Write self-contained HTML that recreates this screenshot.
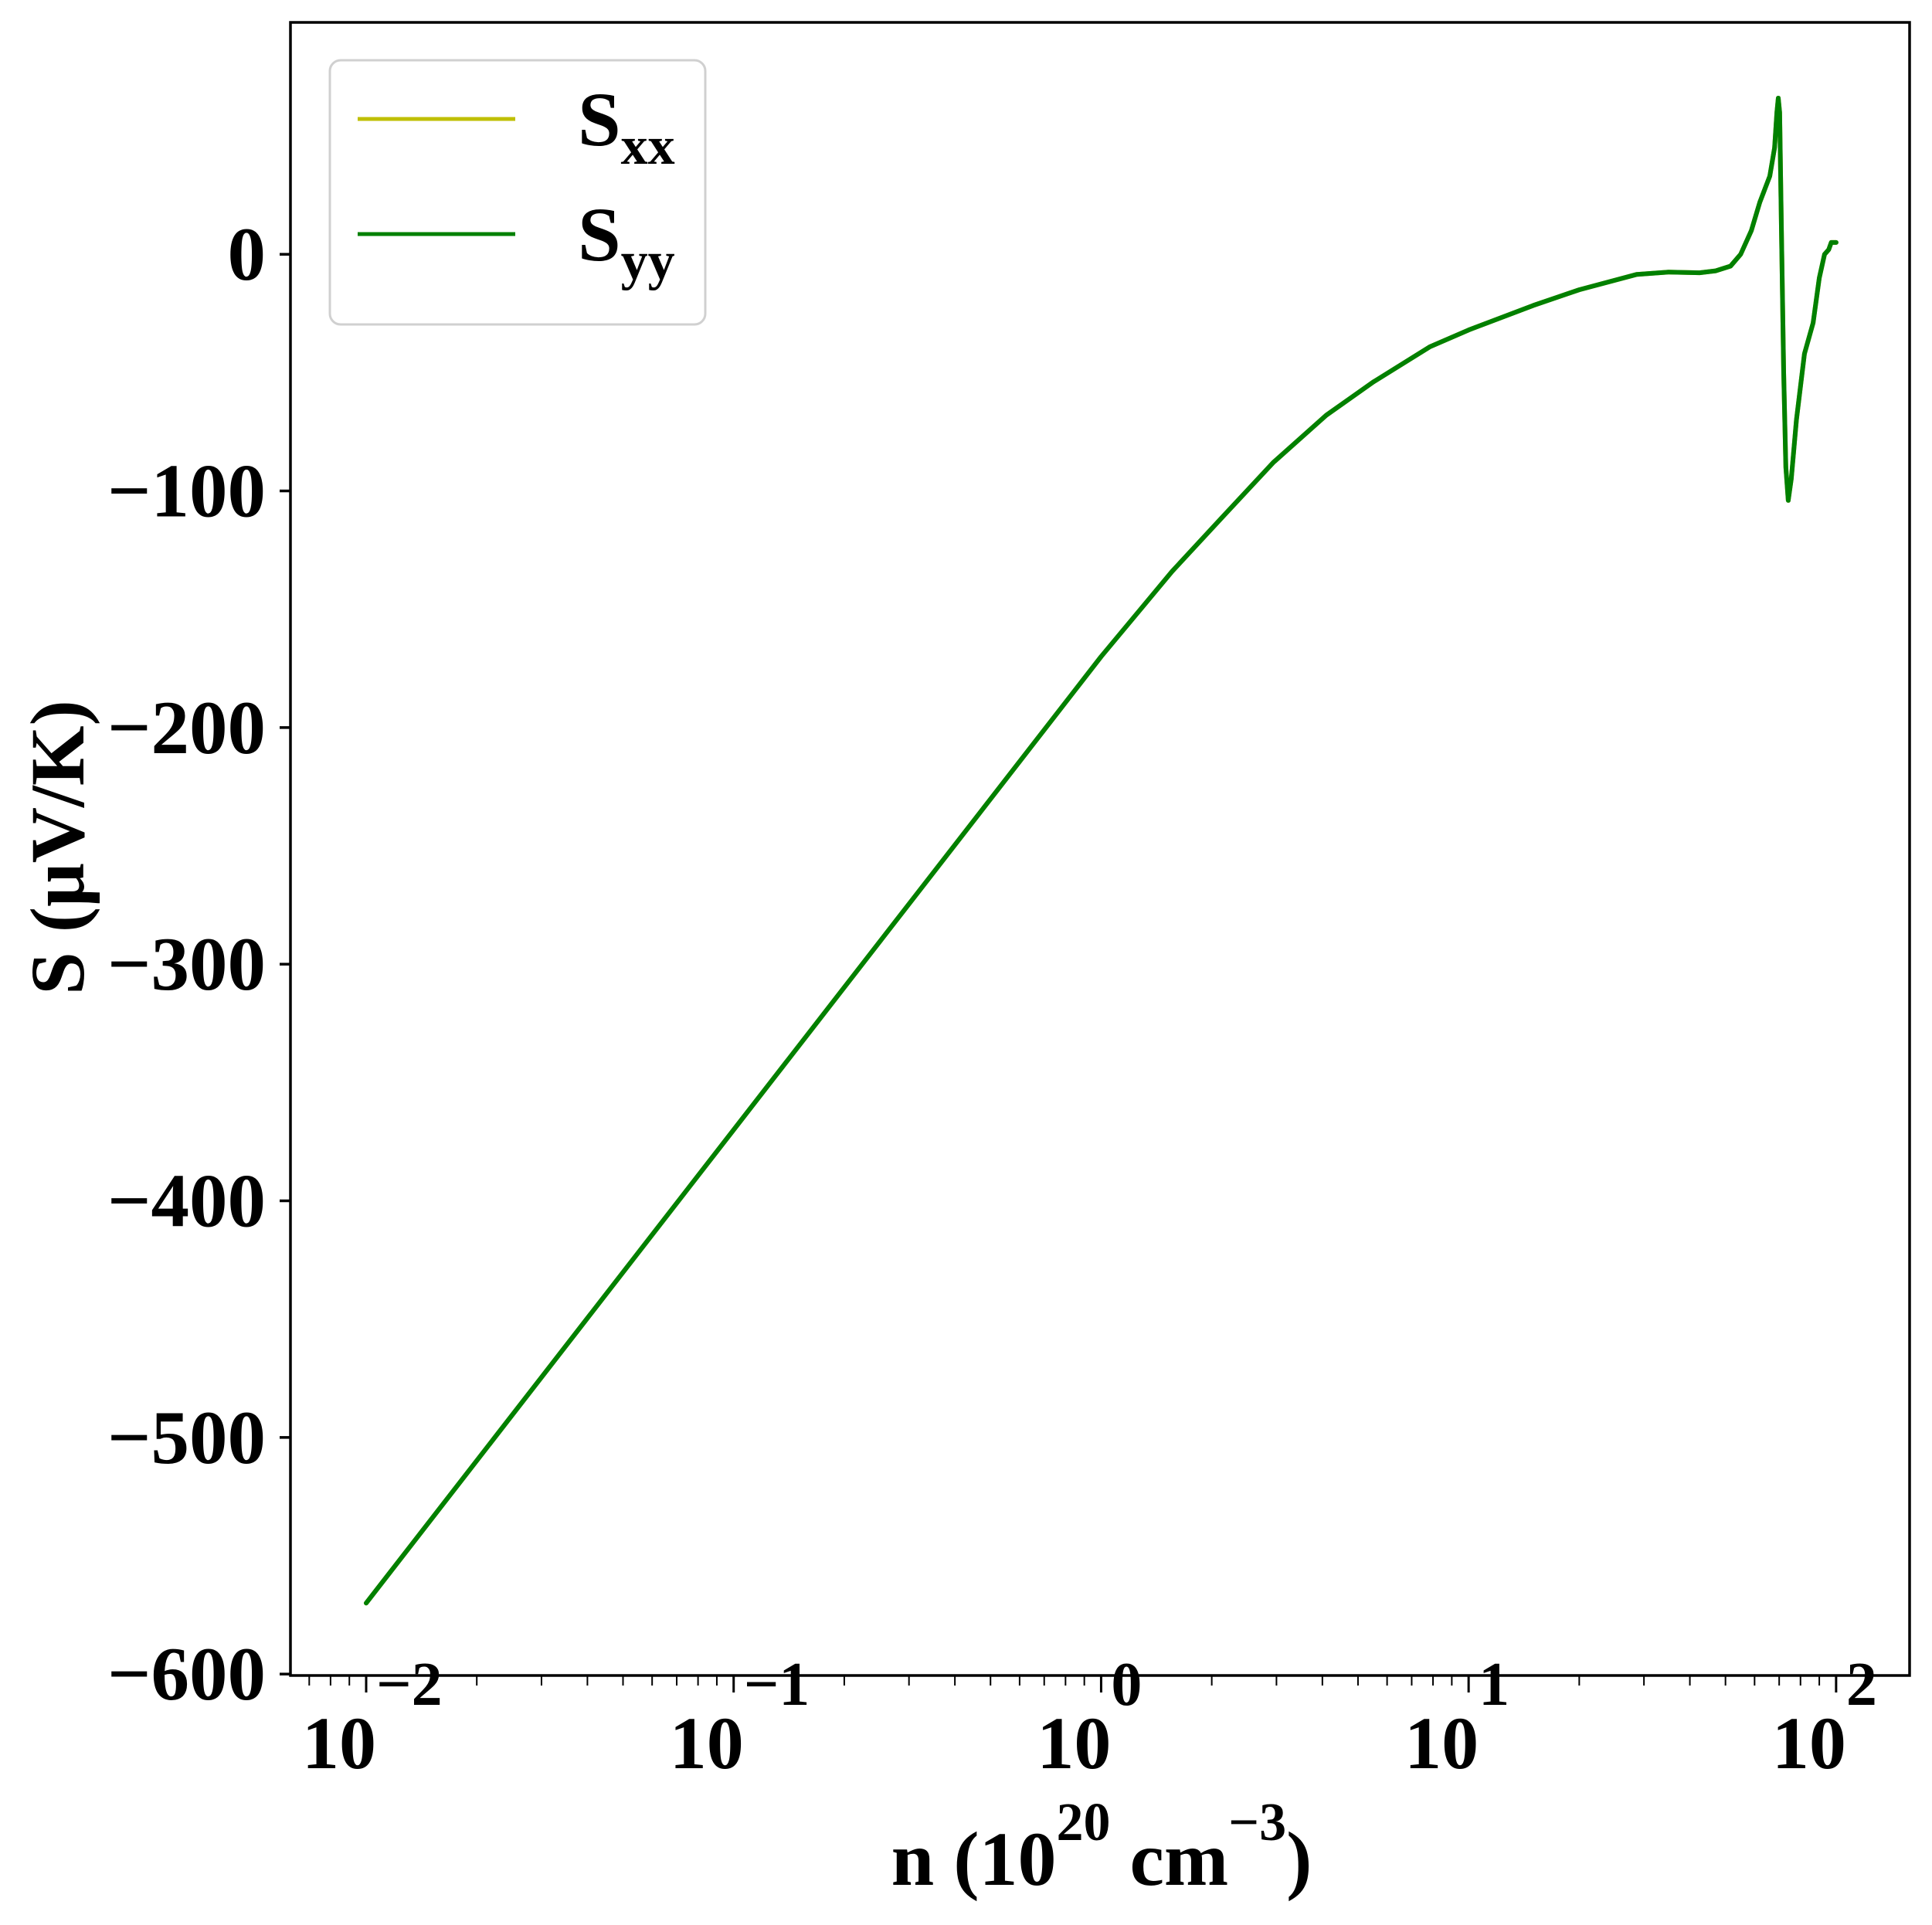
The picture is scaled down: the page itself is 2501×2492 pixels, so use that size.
<!DOCTYPE html>
<html><head><meta charset="utf-8"><style>
html,body{margin:0;padding:0;background:#fff}
svg text{font-family:"Liberation Serif","Nimbus Roman","Times New Roman",Times,serif;font-weight:bold;fill:#000}
</style></head><body>
<svg id="chart" xmlns="http://www.w3.org/2000/svg" width="2501" height="2492" viewBox="0 0 2501 2492" style="position:absolute;left:0;top:0">
<rect x="0" y="0" width="2501" height="2492" fill="#fff"/>
<g id="plot"></g>
</svg>
<script>
const nValues = [0.01,0.1,1,1.56,2.14,2.94,4.1,5.5,7.86,10,15,20,28.7,35,42.5,47,51.6,55,58.8,62,66,68,69,69.6,70.2,71,72,73,74.1,75.5,78,82,86.6,90,93,95.5,97,100];
const sValues = [-570,-370,-170,-134,-111,-88,-68,-54,-39,-32,-21.6,-15,-8.5,-7.5,-7.8,-7,-5,0,10,22,33,45,60,66,60,10,-50,-90,-104,-95,-70,-42,-29,-10,0,2,5,5];
const yTicks = [0,-100,-200,-300,-400,-500,-600];
const xDecades = [-2,-1,0,1,2];
const seriesNames = ["xx","yy"];
const seriesColors = ["#bfbf00","#008000"];

const L=376,R=2472,T=29,B=2169;
const xMin=-2.206,xMax=2.2,yMin=-600.6,yMax=98;
function xs(v){return L+(Math.log10(v)-xMin)/(xMax-xMin)*(R-L);}
function xl(lg){return L+(lg-xMin)/(xMax-xMin)*(R-L);}
function ys(v){return B-(v-yMin)/(yMax-yMin)*(B-T);}
const NS="http://www.w3.org/2000/svg";
const g=document.getElementById('plot');
function mk(tag,attrs,parent){const e=document.createElementNS(NS,tag);for(const k in attrs)e.setAttribute(k,attrs[k]);(parent||g).appendChild(e);return e;}

seriesNames.forEach((nm,i)=>{
  const d=nValues.map((n,j)=>(j?'L':'M')+xs(n).toFixed(1)+','+ys(sValues[j]).toFixed(1)).join(' ');
  const p=mk('path',{d:d,fill:'none',stroke:seriesColors[i],'stroke-width':6,'stroke-linejoin':'round','stroke-linecap':'round'});
  
  
});

const fr=mk('rect',{x:L,y:T,width:R-L,height:B-T,fill:'none',stroke:'#000','stroke-width':3.5});



yTicks.forEach(v=>{
  const y=ys(v);
  const t=mk('line',{x1:L-14,x2:L,y1:y,y2:y,stroke:'#000','stroke-width':3.5});
  
  
  const tx=mk('text',{x:344,y:y+33,'text-anchor':'end','font-size':99});
  tx.textContent=(v<0?'\u2212':'')+Math.abs(v);
  
  
});
xDecades.forEach(dcd=>{
  const x=xl(dcd);
  const t=mk('line',{x1:x,x2:x,y1:B,y2:B+22,stroke:'#000','stroke-width':3});
  
  
  const tx=mk('text',{x:x-83,y:2289,'font-size':96});
  tx.textContent='10';
  
  
  const sp=mk('tspan',{dy:-82,'font-size':80},tx);
  sp.textContent=(dcd<0?'\u2212':'')+Math.abs(dcd);
});
for(let dcd=-3;dcd<=2;dcd++){for(let m=2;m<=9;m++){
  const lg=dcd+Math.log10(m); if(lg<xMin||lg>xMax)continue;
  const x=xl(lg);
  const t=mk('line',{x1:x,x2:x,y1:B,y2:B+13,stroke:'#000','stroke-width':2});
  
  
}}
</script>
<svg style="position:absolute;left:0;top:0" width="2501" height="2492" xmlns="http://www.w3.org/2000/svg">
<g>
<rect x="427" y="78" width="486" height="342" rx="14" fill="#fff" stroke="#d0d0d0" stroke-width="3"/>
<line x1="463" y1="154" x2="667" y2="154" stroke="#bfbf00" stroke-width="5"/>
<text x="748" y="188" font-size="100">S<tspan font-size="70" dy="24">xx</tspan></text>
<line x1="463" y1="303" x2="667" y2="303" stroke="#008000" stroke-width="5"/>
<text x="748" y="337" font-size="100">S<tspan font-size="70" dy="24">yy</tspan></text>
</g>
<text x="1426" y="2440" text-anchor="middle" font-size="100">n (10<tspan font-size="70" dy="-58">20</tspan><tspan dy="58"> cm</tspan><tspan font-size="70" dy="-58">−3</tspan><tspan dy="58">)</tspan></text>
<text transform="translate(108,1097) rotate(-90)" text-anchor="middle" font-size="100">S (μV/K)</text>
</svg>
</body></html>
